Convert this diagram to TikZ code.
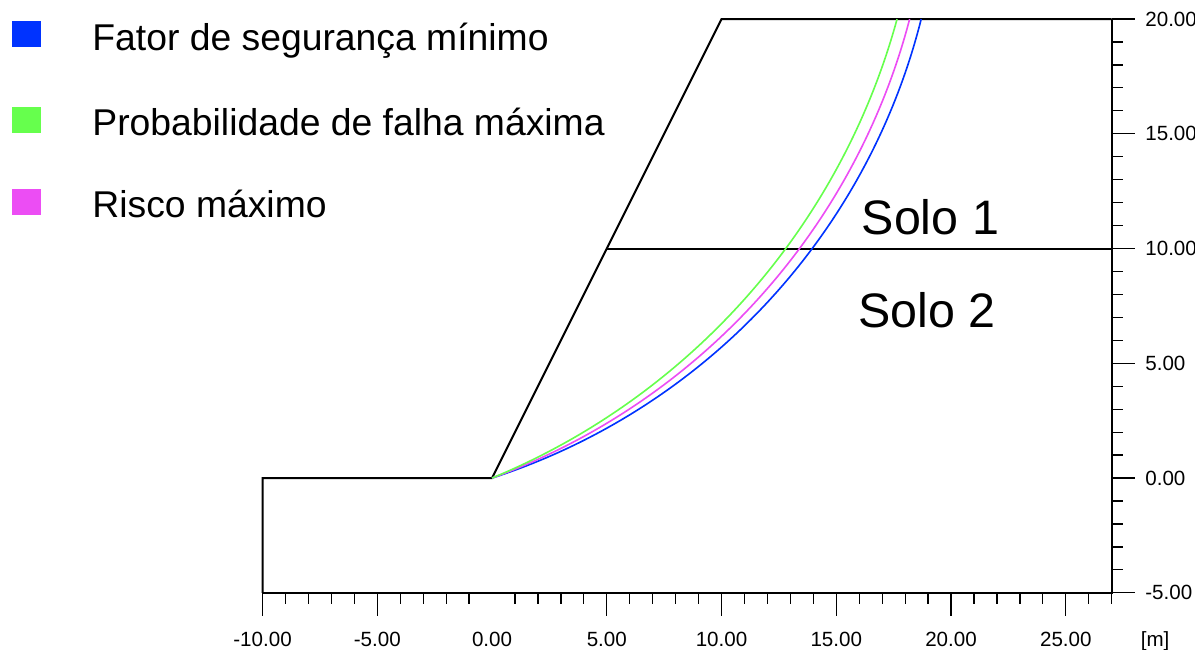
\documentclass[tikz,border=0pt]{standalone}
\usepackage{fontspec}
\setmainfont{Liberation Sans}
\definecolor{fsblue}{RGB}{0,51,255}
\definecolor{pfgreen}{RGB}{102,255,77}
\definecolor{rmmagenta}{RGB}{236,77,244}

\begin{document}
\begin{tikzpicture}[x=0.4cm,y=0.4cm,
    ground/.style={draw=black,line width=1pt},
    axisline/.style={draw=black,line width=0.9pt},
    tickline/.style={draw=black,line width=0.6pt},
    slip/.style={line width=0.8pt},
    legbox/.style={minimum width=14.4pt,minimum height=12.9pt,inner sep=0pt},
    legtext/.style={anchor=base west,inner sep=0pt,font=\fontsize{18.5}{22}\selectfont},
    soiltext/.style={anchor=base,inner sep=0pt,font=\fontsize{24}{28}\selectfont},
    ticklabel/.style={inner sep=0pt,font=\fontsize{10.2}{12}\selectfont}]
  \useasboundingbox (-21.44,-7.48) rectangle (30.63,20.83);
  \coordinate (base) at (-10,-5);
  \coordinate (heel) at (-10,0);
  \coordinate (toe) at (0,0);
  \coordinate (bench) at (5,10);
  \coordinate (crest) at (10,20);
  \coordinate (topend) at (27,20);
  \coordinate (layerend) at (27,10);
  \coordinate (axcorner) at (27,-5);
  \draw[ground] (base) -- (heel) -- (toe) -- (crest) -- (topend);
  \draw[ground] (bench) -- (layerend);
  % eixos
  \draw[axisline] (base) -- (axcorner) -- (topend);
  \foreach \x in {-10,...,27}{
    \ifnum\x=0\relax\else
      \draw[tickline] (\x,-5) -- ++(0,-0.5);
    \fi}
  \foreach \x in {-10,-5,5,10,15,20,25}
    \draw[tickline] (\x,-5) -- ++(0,-1);
  \foreach \x in {-10,-5,0,5,10,15,20,25}
    \node[ticklabel,anchor=base] (xl\x) at (\x,-7.35) {\x.00};
  \node[ticklabel,anchor=base] (unit) at (28.89,-7.35) {[m]};
  \foreach \y in {-5,...,20}
    \draw[tickline] (27,\y) -- ++(0.5,0);
  \foreach \y in {-5,0,5,10,15,20}{
    \draw[tickline] (27,\y) -- ++(1,0);
    \node[ticklabel,anchor=west] (yl\y) at (28.45,\y) {\y.00};}
  % superficies de ruptura
  \draw[slip,fsblue] (toe) arc[start angle=-72.04,end angle=-14.12,radius=28.27];
  \draw[slip,rmmagenta] (toe) arc[start angle=-69.93,end angle=-14.67,radius=29.15];
  \draw[slip,pfgreen] (toe) arc[start angle=-67.55,end angle=-15.31,radius=30.29];
  \node[soiltext] (solo1) at (19.1,10.61) {Solo 1};
  \node[soiltext] (solo2) at (18.95,6.57) {Solo 2};
  % legenda
  \node[legbox,fill=fsblue] (sqfs) at (-20.28,19.33) {};
  \node[legbox,fill=pfgreen] (sqpf) at (-20.28,15.59) {};
  \node[legbox,fill=rmmagenta] (sqrm) at (-20.28,12.02) {};
  \node[legtext] (lgfs) at (-17.43,18.65) {Fator de segurança mínimo};
  \node[legtext] (lgpf) at (-17.43,14.91) {Probabilidade de falha máxima};
  \node[legtext] (lgrm) at (-17.43,11.35) {Risco máximo};
\end{tikzpicture}
\end{document}
